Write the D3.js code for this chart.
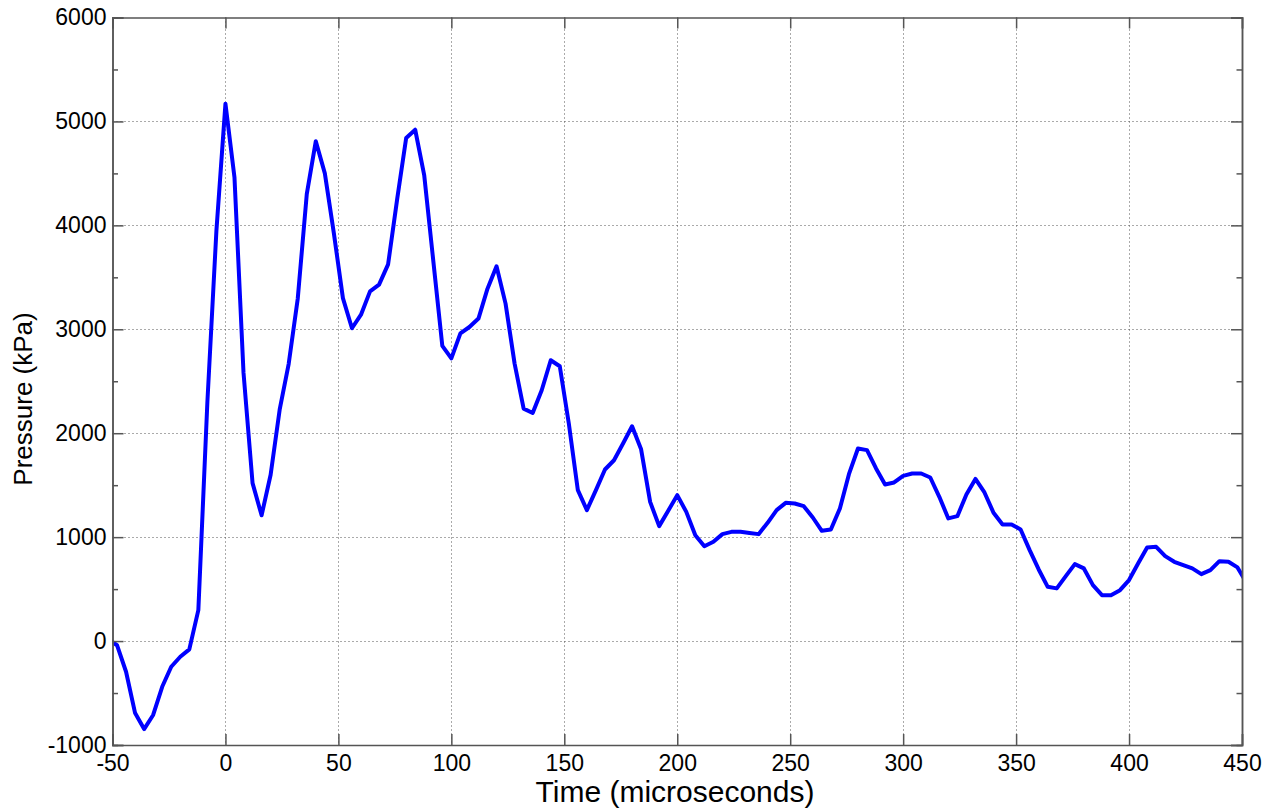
<!DOCTYPE html>
<html lang="en">
<head>
  <meta charset="UTF-8">
  <style>
    body { margin: 0; background: #fff; }
    text { font-family: "Liberation Sans", Arial, sans-serif; fill: #000; }
  </style>
  <script src="https://d3js.org/d3.v7.min.js"></script>
</head>
<body>
  <svg id="chart" width="1269" height="812"></svg>

  <script>
    // sample times (microseconds), one every 4 us
    const times = [
      -52, -48, -44, -40, -36, -32, -28, -24, -20, -16, -12, -8, -4,
      0, 4, 8, 12, 16, 20, 24, 28, 32, 36, 40, 44, 48, 52, 56, 60, 64, 68, 72, 76,
      80, 84, 88, 92, 96, 100, 104, 108, 112, 116, 120, 124, 128, 132, 136, 140,
      144, 148, 152, 156, 160, 164, 168, 172, 176, 180, 184, 188, 192, 196, 200,
      204, 208, 212, 216, 220, 224, 228, 232, 236, 240, 244, 248, 252, 256, 260,
      264, 268, 272, 276, 280, 284, 288, 292, 296, 300, 304, 308, 312, 316, 320,
      324, 328, 332, 336, 340, 344, 348, 352, 356, 360, 364, 368, 372, 376, 380,
      384, 388, 392, 396, 400, 404, 408, 412, 416, 420, 424, 428, 432, 436, 440,
      444, 448, 452
    ];

    // pressure (kPa)
    const pressure = [
      20, -40, -295, -693, -847, -711, -440, -247, -151, -80, 298, 2300, 3950,
      5170, 4460, 2580, 1520, 1210, 1600, 2226, 2668, 3294, 4300, 4810, 4500, 3923, 3300, 3010, 3140, 3365, 3430, 3625, 4250,
      4840, 4920, 4480, 3660, 2840, 2720, 2960, 3022, 3103, 3391, 3606, 3247, 2670, 2237, 2195, 2413,
      2702, 2644, 2093, 1452, 1260, 1452, 1651, 1740, 1901, 2067, 1845, 1339, 1106, 1255, 1404,
      1243, 1019, 913, 955, 1029, 1051, 1051, 1040, 1029, 1138, 1260, 1330, 1324, 1298, 1189,
      1061, 1074, 1276, 1606, 1853, 1837, 1661, 1507, 1526, 1590, 1612, 1612, 1574, 1388, 1180,
      1202, 1410, 1560, 1430, 1235, 1122, 1122, 1074, 875, 689, 522, 507, 625, 740, 699,
      538, 442, 442, 490, 587, 747, 901, 907, 817, 763, 731, 699, 644, 683, 769,
      763, 709, 560
    ];

    const xTicks = [-50, 0, 50, 100, 150, 200, 250, 300, 350, 400, 450];
    const yTicks = [-1000, 0, 1000, 2000, 3000, 4000, 5000, 6000];
    const yMinorTicks = [-500, 500, 1500, 2500, 3500, 4500, 5500];

    const svg = d3.select('#chart');
    const plotLeft = 112.5, plotRight = 1242, plotTop = 17.5, plotBottom = 745;

    const x = d3.scaleLinear().domain([-50, 450]).range([plotLeft, plotRight]);
    const y = d3.scaleLinear().domain([-1000, 6000]).range([plotBottom, plotTop]);

    // dotted grid
    svg.append('g').selectAll('line')
      .data(xTicks.slice(1, -1))
      .enter().append('line')
      .attr('x1', d => Math.round(x(d)) + 0.5).attr('x2', d => Math.round(x(d)) + 0.5)
      .attr('y1', plotTop).attr('y2', plotBottom)
      .attr('stroke', '#555').attr('stroke-width', 1).attr('stroke-dasharray', '1,3');

    svg.append('g').selectAll('line')
      .data(yTicks.slice(1, -1))
      .enter().append('line')
      .attr('y1', d => Math.round(y(d)) + 0.5).attr('y2', d => Math.round(y(d)) + 0.5)
      .attr('x1', plotLeft).attr('x2', plotRight)
      .attr('stroke', '#555').attr('stroke-width', 1).attr('stroke-dasharray', '1,3');

    // the trace, clipped to the axes box
    svg.append('clipPath').attr('id', 'plot-clip')
      .append('rect')
      .attr('x', plotLeft).attr('y', plotTop)
      .attr('width', plotRight - plotLeft).attr('height', plotBottom - plotTop);

    const line = d3.line()
      .x((d, i) => x(times[i]))
      .y(d => y(d));

    svg.append('path')
      .datum(pressure)
      .attr('clip-path', 'url(#plot-clip)')
      .attr('fill', 'none')
      .attr('stroke', '#0000ff')
      .attr('stroke-width', 4)
      .attr('stroke-linejoin', 'round')
      .attr('d', line);

    // axes: inward ticks, mirrored on top and right (box on)
    const tickLen = 11, minorLen = 5.5;
    const axisColor = '#555';
    const plain = d => String(d);   // hyphen minus, no thousands comma

    const xBottom = d3.axisBottom(x).tickValues(xTicks).tickSize(-tickLen).tickPadding(10).tickFormat(plain);
    const xTop = d3.axisTop(x).tickValues(xTicks).tickSize(-tickLen).tickFormat('');
    const yLeft = d3.axisLeft(y).tickValues(yTicks).tickSize(-tickLen).tickPadding(6).tickFormat(plain);
    const yRight = d3.axisRight(y).tickValues(yTicks).tickSize(-tickLen).tickFormat('');
    const yLeftMinor = d3.axisLeft(y).tickValues(yMinorTicks).tickSize(-minorLen).tickFormat('');
    const yRightMinor = d3.axisRight(y).tickValues(yMinorTicks).tickSize(-minorLen).tickFormat('');

    function drawAxis(axis, tx, ty) {
      const g = svg.append('g')
        .attr('transform', `translate(${tx},${ty})`)
        .call(axis);
      g.selectAll('path.domain').attr('stroke', axisColor).attr('stroke-width', 1.5);
      g.selectAll('.tick line').attr('stroke', axisColor).attr('stroke-width', 1.5);
      g.selectAll('.tick text')
        .attr('font-family', '"Liberation Sans", Arial, sans-serif')
        .attr('font-size', 23)
        .attr('fill', '#000');
      return g;
    }

    drawAxis(yLeftMinor, plotLeft, 0);
    drawAxis(yRightMinor, plotRight, 0);
    drawAxis(xTop, 0, plotTop);
    drawAxis(yRight, plotRight, 0);
    drawAxis(xBottom, 0, plotBottom);
    drawAxis(yLeft, plotLeft, 0);

    // axis labels
    svg.append('text')
      .attr('x', 675)
      .attr('y', 802)
      .attr('text-anchor', 'middle')
      .attr('font-size', 30)
      .text('Time (microseconds)');

    svg.append('text')
      .attr('transform', 'translate(32, 399) rotate(-90)')
      .attr('text-anchor', 'middle')
      .attr('font-size', 26)
      .text('Pressure (kPa)');
  </script>
</body>
</html>
